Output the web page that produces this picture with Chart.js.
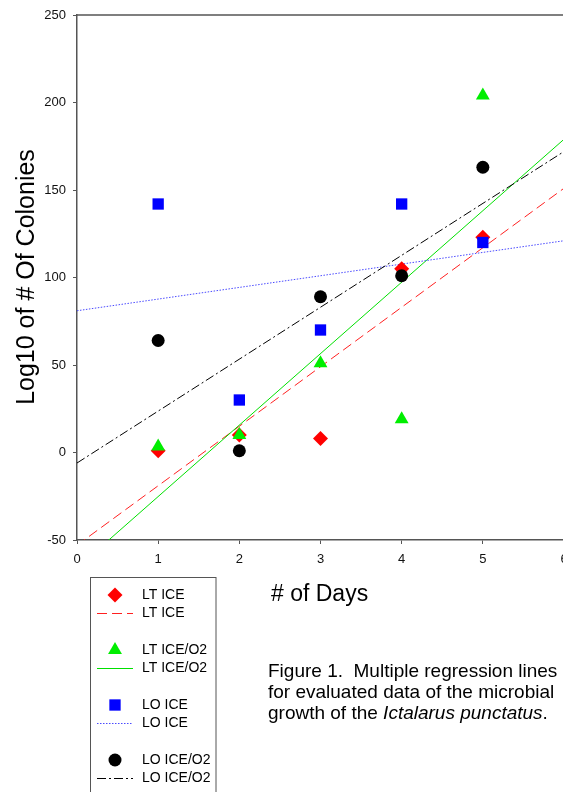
<!DOCTYPE html>
<html>
<head>
<meta charset="UTF-8">
<title>Figure 1</title>
<script src="https://cdn.jsdelivr.net/npm/chart.js@4/dist/chart.umd.min.js"></script>
<style>
  html, body { margin: 0; padding: 0; background: #fff; overflow: hidden; }
  canvas { display: block; }
</style>
</head>
<body>
<canvas id="chart" width="600" height="792"></canvas>
<script>
// values
var days = [1, 2, 3, 4, 5];
var ltIce = [1, 10, 8, 105, 123];
var ltIceO2 = [3.5, 10, 51, 19, 204];
var loIce = [142, 30, 70, 142, 120];
var loIceO2 = [64, 1, 89, 101, 163];

// regression lines, end points at day 0 and day 6
var fitDays = [0, 6];
var ltIceFit = [-53, 151];
var ltIceO2Fit = [-66, 179];
var loIceFit = [81, 121];
var loIceO2Fit = [-6, 172];

var xTicks = [0, 1, 2, 3, 4, 5, 6];
var yTicks = [-50, 0, 50, 100, 150, 200, 250];

var FONT = '"Liberation Sans", Arial, sans-serif';

function pts(xs, ys) {
    return xs.map(function (x, i) { return { x: x, y: ys[i] }; });
}

var series = [
    { label: 'LT ICE', data: ltIce, fit: ltIceFit, color: '#ff0000', shape: 'rectRot', radius: 7.5,
      lineColor: '#ff2020', dash: [10, 5] },
    { label: 'LT ICE/O2', data: ltIceO2, fit: ltIceO2Fit, color: '#00ee00', shape: 'triangle', radius: 8,
      lineColor: '#00e000', dash: [] },
    { label: 'LO ICE', data: loIce, fit: loIceFit, color: '#0000ff', shape: 'rect', radius: 8,
      lineColor: '#4a4aff', dash: [1.5, 1.5] },
    { label: 'LO ICE/O2', data: loIceO2, fit: loIceO2Fit, color: '#000000', shape: 'circle', radius: 6.5,
      lineColor: '#000000', dash: [9, 3, 2, 3] }
];

var datasets = [];
series.forEach(function (s, i) {
    datasets.push({
        type: 'line',
        label: s.label + ' fit',
        data: pts(fitDays, s.fit),
        borderColor: s.lineColor,
        borderWidth: 1,
        borderDash: s.dash,
        pointRadius: 0,
        fill: false,
        order: 20 - i
    });
    datasets.push({
        type: 'scatter',
        label: s.label,
        data: pts(days, s.data),
        backgroundColor: s.color,
        borderColor: s.color,
        borderWidth: 0,
        pointStyle: s.shape,
        pointRadius: s.radius,
        order: 10 - i
    });
});

function marker(ctx, shape, x, y, r, color) {
    ctx.save();
    ctx.fillStyle = color;
    ctx.beginPath();
    if (shape === 'rectRot') {
        ctx.moveTo(x, y - r); ctx.lineTo(x + r, y); ctx.lineTo(x, y + r); ctx.lineTo(x - r, y);
    } else if (shape === 'triangle') {
        for (var k = 0; k < 3; k++) {
            var a = k * 2 * Math.PI / 3;
            ctx.lineTo(x + Math.sin(a) * r, y - Math.cos(a) * r);
        }
    } else if (shape === 'rect') {
        var h = r * Math.SQRT1_2;
        ctx.rect(x - h, y - h, 2 * h, 2 * h);
    } else {
        ctx.arc(x, y, r, 0, Math.PI * 2);
    }
    ctx.closePath();
    ctx.fill();
    ctx.restore();
}

var extras = {
    id: 'extras',
    afterDraw: function (chart) {
        var ctx = chart.ctx;
        var area = chart.chartArea;
        ctx.save();

        // top frame line
        ctx.strokeStyle = '#555';
        ctx.lineWidth = 1.5;
        ctx.beginPath();
        ctx.moveTo(area.left, area.top);
        ctx.lineTo(area.right, area.top);
        ctx.stroke();

        ctx.fillStyle = '#000';
        // y title
        ctx.save();
        ctx.font = '25px ' + FONT;
        ctx.translate(34, 277);
        ctx.rotate(-Math.PI / 2);
        ctx.textAlign = 'center';
        ctx.textBaseline = 'alphabetic';
        ctx.fillText('Log10 of # Of Colonies', 0, 0);
        ctx.restore();

        // x title
        ctx.font = '23px ' + FONT;
        ctx.textAlign = 'left';
        ctx.textBaseline = 'alphabetic';
        ctx.fillText('# of Days', 271, 601);

        // legend box
        ctx.strokeStyle = '#555';
        ctx.lineWidth = 1;
        ctx.strokeRect(90.5, 577.5, 125.5, 240);
        ctx.font = '14px ' + FONT;
        ctx.textBaseline = 'middle';
        series.forEach(function (s, i) {
            var ym = 595 + i * 55;
            var yl = 613.5 + i * 55;
            marker(ctx, s.shape, 115, ym, s.radius, s.color);
            ctx.save();
            ctx.strokeStyle = s.lineColor;
            ctx.lineWidth = 1;
            ctx.setLineDash(s.dash);
            ctx.beginPath();
            ctx.moveTo(97, yl);
            ctx.lineTo(133, yl);
            ctx.stroke();
            ctx.restore();
            ctx.fillStyle = '#000';
            ctx.fillText(s.label, 142, ym);
            ctx.fillText(s.label, 142, yl);
        });

        // caption
        ctx.textBaseline = 'alphabetic';
        ctx.font = '19px ' + FONT;
        ctx.fillText('Figure 1.  Multiple regression lines', 268, 677);
        ctx.fillText('for evaluated data of the microbial', 268, 698);
        var pre = 'growth of the ';
        ctx.fillText(pre, 268, 719);
        var x = 268 + ctx.measureText(pre).width;
        ctx.font = 'italic 19px ' + FONT;
        ctx.fillText('Ictalarus punctatus', x, 719);
        x += ctx.measureText('Ictalarus punctatus').width;
        ctx.font = '19px ' + FONT;
        ctx.fillText('.', x, 719);
        ctx.restore();
    }
};

new Chart(document.getElementById('chart').getContext('2d'), {
    data: { datasets: datasets },
    options: {
        responsive: false,
        animation: false,
        layout: { padding: { left: 0, right: 36, top: 15, bottom: 0 } },
        plugins: { legend: { display: false }, tooltip: { enabled: false } },
        scales: {
            x: {
                type: 'linear',
                min: 0, max: 6,
                afterFit: function (s) { s.height = 252; },
                afterBuildTicks: function (s) { s.ticks = xTicks.map(function (v) { return { value: v }; }); },
                grid: { drawOnChartArea: false, tickLength: 4, color: '#555', lineWidth: 1 },
                border: { color: '#555', width: 1.5 },
                ticks: { color: '#111', font: { family: FONT, size: 13 }, padding: 8, maxRotation: 0 }
            },
            y: {
                type: 'linear',
                min: -50, max: 250,
                afterFit: function (s) { s.width = 77; },
                afterBuildTicks: function (s) { s.ticks = yTicks.map(function (v) { return { value: v }; }); },
                grid: { drawOnChartArea: false, tickLength: 4, color: '#555', lineWidth: 1 },
                border: { color: '#555', width: 1.5 },
                ticks: { color: '#111', font: { family: FONT, size: 13 }, padding: 7 }
            }
        }
    },
    plugins: [extras]
});
</script>
</body>
</html>
